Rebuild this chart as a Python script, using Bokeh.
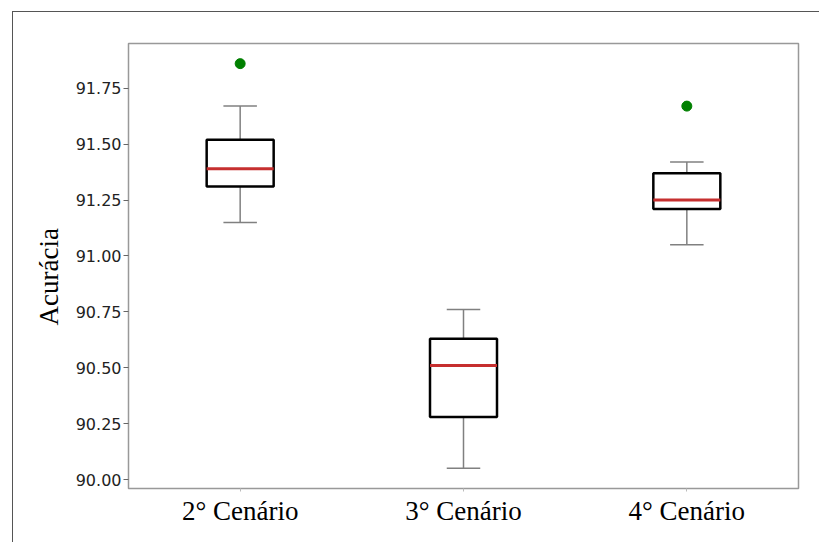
from bokeh.plotting import figure
from bokeh.models import ColumnDataSource, FixedTicker, Range1d, NumeralTickFormatter, InlineStyleSheet, Title
from bokeh.embed import file_html
from bokeh.resources import INLINE

# data
scenarios = ["2° Cenário", "3° Cenário", "4° Cenário"]
positions = [1, 2, 3]
lower_whisker = [91.15, 90.05, 91.05]
q1 = [91.31, 90.28, 91.21]
median = [91.39, 90.51, 91.25]
q3 = [91.52, 90.63, 91.37]
upper_whisker = [91.67, 90.76, 91.42]
outlier_pos = [1, 3]
outlier_val = [91.86, 91.67]
y_ticks = [90.00, 90.25, 90.50, 90.75, 91.00, 91.25, 91.50, 91.75]
y_label = "Acurácia"

box_half = 0.15
cap_half = 0.075

p = figure(width=819, height=542, output_backend="svg", toolbar_location=None,
           x_range=Range1d(0.5, 3.5), y_range=Range1d(89.96, 91.95),
           min_border_left=128, min_border_right=21, min_border_top=43, min_border_bottom=54)
p.grid.visible = False
p.outline_line_color = "#999999"
p.outline_line_width = 1.5
p.background_fill_color = "white"
p.border_fill_color = "white"

src = ColumnDataSource(dict(
    x=positions,
    left=[x - box_half for x in positions],
    right=[x + box_half for x in positions],
    cl=[x - cap_half for x in positions],
    cr=[x + cap_half for x in positions],
    lw=lower_whisker, q1=q1, med=median, q3=q3, uw=upper_whisker,
))

# whiskers
p.segment(x0="x", y0="lw", x1="x", y1="q1", source=src, line_color="#808080", line_width=1.5)
p.segment(x0="x", y0="q3", x1="x", y1="uw", source=src, line_color="#808080", line_width=1.5)
# caps
p.segment(x0="cl", y0="lw", x1="cr", y1="lw", source=src, line_color="#808080", line_width=1.5)
p.segment(x0="cl", y0="uw", x1="cr", y1="uw", source=src, line_color="#808080", line_width=1.5)
# boxes
p.quad(left="left", right="right", bottom="q1", top="q3", source=src,
       fill_color="white", line_color="black", line_width=2.5)
# medians
p.segment(x0="left", y0="med", x1="right", y1="med", source=src, line_color="#c62f2f", line_width=3)
# outliers
p.scatter(x=outlier_pos, y=outlier_val, size=10, fill_color="#008000", line_color="#008000")

# axes
p.xaxis.ticker = FixedTicker(ticks=positions)
p.xaxis.major_label_overrides = {x: s for x, s in zip(positions, scenarios)}
p.xaxis.major_label_text_font = "Liberation Serif"
p.xaxis.major_label_text_font_size = "27px"
p.xaxis.major_label_text_color = "black"
p.xaxis.major_label_standoff = 4
p.xaxis.major_tick_out = 3
p.xaxis.major_tick_in = 0
p.xaxis.major_tick_line_color = "#bbbbbb"
p.xaxis.minor_tick_line_color = None
p.xaxis.axis_line_color = None

p.yaxis.ticker = FixedTicker(ticks=y_ticks)
p.yaxis.formatter = NumeralTickFormatter(format="0.00")
p.yaxis.major_label_text_font = "DejaVu Sans"
p.yaxis.major_label_text_font_size = "16px"
p.yaxis.major_label_text_color = "#222222"
p.yaxis.major_label_standoff = 2
p.yaxis.major_tick_out = 5
p.yaxis.major_tick_in = 0
p.yaxis.major_tick_line_color = "#666666"
p.yaxis.minor_tick_line_color = None
p.yaxis.axis_line_color = None

# y axis title, placed as a side title so it can be offset along the axis
ytitle = Title(text=y_label, align="left", offset=163, standoff=17,
               text_font="Liberation Serif", text_font_size="27px",
               text_font_style="normal", text_color="black")
p.add_layout(ytitle, "left")

# outer border of the original page (only its top and left edges are visible)
p.stylesheets = [InlineStyleSheet(css="""
:host::after {
  content: "";
  position: absolute;
  left: 12px;
  top: 11px;
  width: 807px;
  height: 531px;
  box-sizing: border-box;
  border-left: 1.5px solid #555555;
  border-top: 1.5px solid #555555;
  pointer-events: none;
  z-index: 10;
}
""")]

open("out.html", "w").write(file_html(p, INLINE))
